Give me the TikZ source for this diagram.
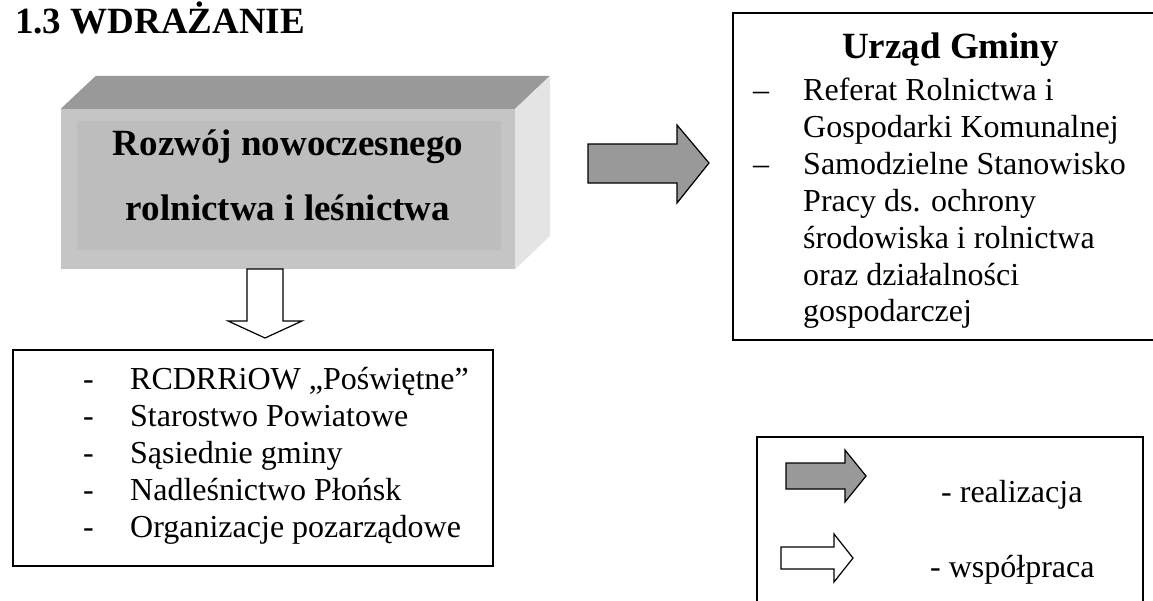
\documentclass[tikz,border=0pt]{standalone}
\usepackage{fontspec}
\setmainfont{Liberation Serif}
\usetikzlibrary{calc}
\definecolor{topgray}{RGB}{153,153,153}
\definecolor{frontgray}{RGB}{197,197,197}
\definecolor{innergray}{RGB}{189,189,189}
\definecolor{sidegray}{RGB}{228,228,228}
\definecolor{arrowgray}{RGB}{153,153,153}

\tikzset{
  boxline/.style={draw=black,line width=1.5pt},
  realarrow/.style={draw=black,fill=arrowgray,line width=1.2pt,line join=miter},
  coarrow/.style={draw=black,fill=white,line width=1.2pt,line join=miter},
  bigtext/.style={font=\bfseries\fontsize{37}{37}\selectfont,inner sep=0pt},
  listtext/.style={font=\fontsize{32}{32}\selectfont,inner sep=0pt,anchor=base west}
}

\begin{document}
\begin{tikzpicture}[x=1pt,y=-1pt]
\useasboundingbox (0,0) rectangle (1153,600);

\node[bigtext,anchor=base west] (title) at (15,33) {1.3 WDRAŻANIE};

% przestrzenny blok
\node[fill=frontgray,minimum width=454pt,minimum height=160pt,inner sep=0pt] (front) at (288,189) {};
\fill[topgray] (front.north west) -- ++(35,-33) -- ++(454,0) -- (front.north east) -- cycle;
\fill[sidegray] (front.north east) -- ++(35,-33) -- ++(0,160) -- (front.south east) -- cycle;
\fill[innergray] ($(front.north west)+(16,12)$) rectangle ($(front.south east)+(-14,-19)$);
\node[bigtext,anchor=base] (rozwoj) at (288,155) {Rozwój nowoczesnego};
\node[bigtext,anchor=base] (rolnictwo) at (288,220) {rolnictwa i leśnictwa};

% wspolpraca w dol
\coordinate (dn) at (265,269);
\draw[coarrow] (dn) ++(-18,0) -- ++(36,0) -- ++(0,52) -- ++(19,0) -- (265,338) -- ++(-37,-17) -- ++(19,0) -- cycle;

\node[boxline,minimum width=480pt,minimum height=216pt,inner sep=0pt] (partners) at (253,458) {};
\foreach \y/\t in {389/{RCDRRiOW „Poświętne”},426/{Starostwo Powiatowe},463/{Sąsiednie gminy},500/{Nadleśnictwo Płońsk},537/{Organizacje pozarządowe}}{
  \node[listtext] at (83,\y) {-};
  \node[listtext] at (130,\y) {\t};
}

% realizacja w prawo
\draw[realarrow] (588,144) -- (677,144) -- (677,125) -- (709,163) -- (677,203) -- (677,183) -- (588,183) -- cycle;

\draw[boxline] (733,13) rectangle (1167,340);
\node[bigtext,anchor=base west] (urzad) at (842,58) {Urząd Gminy};
\foreach \y in {100,174}
  \node[listtext] at (753,\y) {–};
\foreach \y/\t in {100/{Referat Rolnictwa i},137/{Gospodarki Komunalnej},174/{Samodzielne Stanowisko},211/{Pracy ds. ochrony},248/{środowiska i rolnictwa},285/{oraz działalności},321/{gospodarczej}}
  \node[listtext] at (803,\y) {\t};

% legenda
\draw[boxline] (757,437) rectangle (1143,620);
\draw[realarrow] (786,463) -- (845,463) -- (845,450) -- (866,476) -- (845,502) -- (845,489) -- (786,489) -- cycle;
\node[listtext] (real) at (941,502) {- realizacja};
\draw[coarrow] (781,547) -- (834,547) -- (834,534) -- (853,558) -- (834,582) -- (834,569) -- (781,569) -- cycle;
\node[listtext] (wsp) at (930,577) {- współpraca};
\end{tikzpicture}
\end{document}
